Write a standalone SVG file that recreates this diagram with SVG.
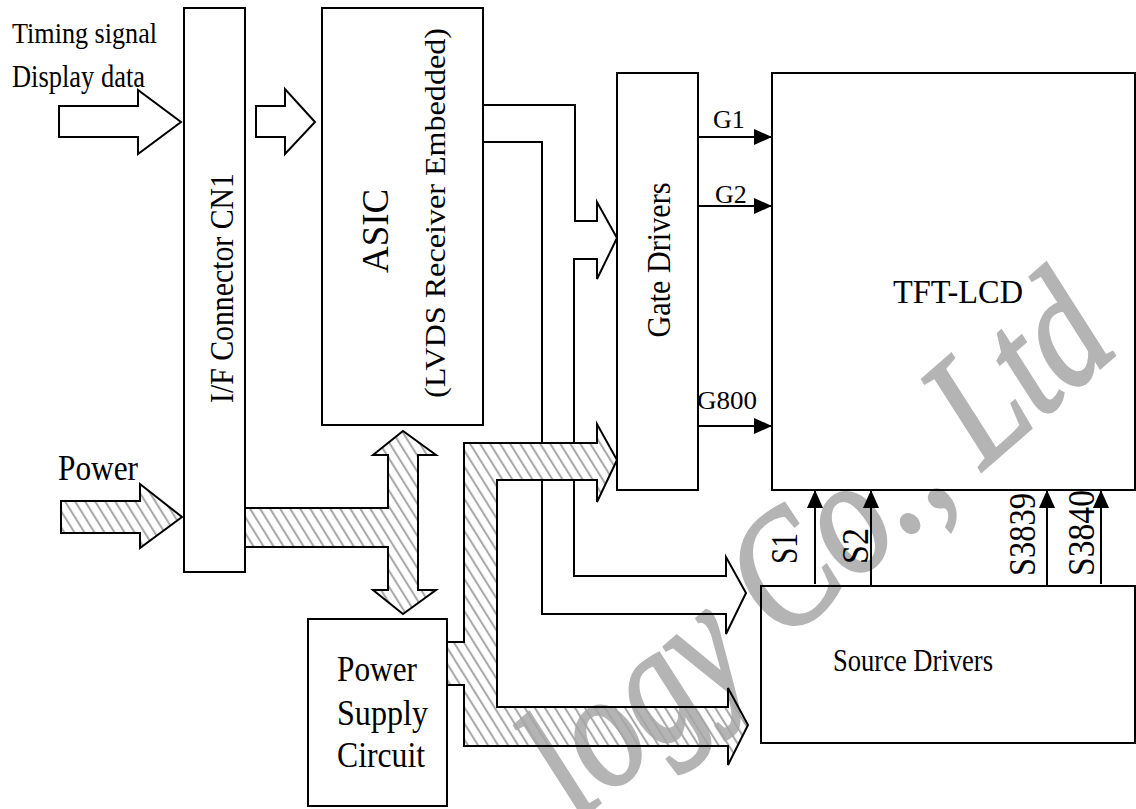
<svg xmlns="http://www.w3.org/2000/svg" width="1136" height="809" viewBox="0 0 1136 809">
<style>
  .box { fill: none; stroke: #000; stroke-width: 2; }
  .ln { fill: none; stroke: #000; stroke-width: 2; }
  .hollow { fill: none; stroke: #000; stroke-width: 2; stroke-linejoin: miter; }
  .hatch { fill: url(#hatch); stroke: #000; stroke-width: 2; stroke-linejoin: miter; }
  .t { font-family: "Liberation Serif", "Times New Roman", serif; fill: #000; }
  .wm { font-family: "Liberation Serif", "Times New Roman", serif; font-style: italic; fill: #b4b4b4; }
</style>
<defs>
  <pattern id="hatch" patternUnits="userSpaceOnUse" width="8.5" height="20" patternTransform="rotate(-32)">
    <line x1="2" y1="-2" x2="2" y2="22" stroke="#a6a6a6" stroke-width="2"/>
  </pattern>
  <marker id="ah" markerUnits="userSpaceOnUse" markerWidth="20" markerHeight="18" refX="18" refY="8" orient="auto">
    <path d="M0,0 L18,8 L0,16 Z" fill="#000"/>
  </marker>
</defs>
<rect width="1136" height="809" fill="#fff"/>

<!-- watermark -->
<text class="wm" font-size="165" stroke="#b4b4b4" stroke-width="3" textLength="720" lengthAdjust="spacingAndGlyphs" transform="translate(578,822) rotate(-41)">logy Co., Ltd</text>

<!-- input labels -->
<text class="t" x="12" y="43" font-size="30" textLength="145" lengthAdjust="spacingAndGlyphs">Timing signal</text>
<text class="t" x="12" y="87" font-size="31" textLength="133" lengthAdjust="spacingAndGlyphs">Display data</text>
<text class="t" x="58" y="480" font-size="35" textLength="80" lengthAdjust="spacingAndGlyphs">Power</text>

<g id="connectors">
  <!-- input arrows -->
  <path class="hollow" d="M59,106 H138 V90 L181,122 L138,154 V137 H59 Z"/>
  <path class="hollow" d="M256,106 H285 V89 L315,122 L285,154 V137 H256 Z"/>
  <path class="hatch" d="M61,501 H140 V484 L182,517 L140,548 V533 H61 Z"/>
  <!-- T double arrow -->
  <path class="hatch" d="M245,508 H388 V455 H373 L403,431 L436,455 H418 V590 H436 L403,614 L373,590 H388 V547 H245 Z"/>
  <!-- ASIC data buses -->
  <path class="ln" d="M483,105 H575 V221 H597 V202 L617,238 L597,279 V259 H574 V443"/>
  <path class="ln" d="M574,480 V576 H726 V557 L746,593 L726,634 V614 H542 V480"/>
  <path class="ln" d="M542,443 V142 H483"/>
  <!-- power supply bus -->
  <path class="hatch" d="M447,642 H464 V443 H597 V424 L617,460 L597,502 V480 H497 V707 H728 V688 L748,725 L728,765 V746 H464 V685 H447 Z"/>
  <!-- gate lines -->
  <line class="ln" x1="698" y1="137" x2="772" y2="137" marker-end="url(#ah)"/>
  <line class="ln" x1="698" y1="206" x2="772" y2="206" marker-end="url(#ah)"/>
  <line class="ln" x1="698" y1="426" x2="772" y2="426" marker-end="url(#ah)"/>
  <!-- source lines -->
  <line class="ln" x1="815" y1="584" x2="815" y2="490" marker-end="url(#ah)"/>
  <line class="ln" x1="871" y1="586" x2="871" y2="490" marker-end="url(#ah)"/>
  <line class="ln" x1="1047" y1="586" x2="1047" y2="490" marker-end="url(#ah)"/>
  <line class="ln" x1="1101" y1="584" x2="1101" y2="490" marker-end="url(#ah)"/>
</g>

<g id="cn1">
  <rect class="box" x="184" y="8" width="61" height="564"/>
  <text class="t" font-size="33" text-anchor="middle" textLength="230" lengthAdjust="spacingAndGlyphs" transform="translate(233,288) rotate(-90)">I/F Connector CN1</text>
</g>
<g id="asic">
  <rect class="box" x="322" y="8" width="161" height="417"/>
  <text class="t" font-size="38" text-anchor="middle" textLength="84" lengthAdjust="spacingAndGlyphs" transform="translate(388,231) rotate(-90)">ASIC</text>
  <text class="t" font-size="30" text-anchor="middle" textLength="370" lengthAdjust="spacingAndGlyphs" transform="translate(445,213) rotate(-90)">(LVDS Receiver Embedded)</text>
</g>
<g id="gate">
  <rect class="box" x="617" y="73" width="81" height="417"/>
  <text class="t" font-size="33" text-anchor="middle" textLength="155" lengthAdjust="spacingAndGlyphs" transform="translate(670,260) rotate(-90)">Gate Drivers</text>
</g>
<g id="gate-labels">
  <text class="t" x="713" y="128" font-size="26">G1</text>
  <text class="t" x="715" y="203" font-size="26">G2</text>
  <text class="t" x="697" y="409" font-size="26" textLength="60" lengthAdjust="spacingAndGlyphs">G800</text>
</g>
<g id="tft">
  <rect class="box" x="772" y="73" width="363" height="417"/>
  <text class="t" x="893" y="303" font-size="34" textLength="130" lengthAdjust="spacingAndGlyphs">TFT-LCD</text>
</g>
<g id="source-labels">
  <text class="t" font-size="37" textLength="31" lengthAdjust="spacingAndGlyphs" transform="translate(797,564) rotate(-90)">S1</text>
  <text class="t" font-size="37" textLength="36" lengthAdjust="spacingAndGlyphs" transform="translate(868,564) rotate(-90)">S2</text>
  <text class="t" font-size="37" textLength="83" lengthAdjust="spacingAndGlyphs" transform="translate(1035,576) rotate(-90)">S3839</text>
  <text class="t" font-size="37" textLength="86" lengthAdjust="spacingAndGlyphs" transform="translate(1094,576) rotate(-90)">S3840</text>
</g>
<g id="source">
  <rect class="box" x="761" y="586" width="374" height="157"/>
  <text class="t" x="833" y="671" font-size="31" textLength="160" lengthAdjust="spacingAndGlyphs">Source Drivers</text>
</g>
<g id="psu">
  <rect class="box" x="308" y="619" width="139" height="187"/>
  <text class="t" x="337" y="681" font-size="35" textLength="80" lengthAdjust="spacingAndGlyphs">Power</text>
  <text class="t" x="337" y="725" font-size="35" textLength="91" lengthAdjust="spacingAndGlyphs">Supply</text>
  <text class="t" x="337" y="767" font-size="35" textLength="88" lengthAdjust="spacingAndGlyphs">Circuit</text>
</g>
</svg>
